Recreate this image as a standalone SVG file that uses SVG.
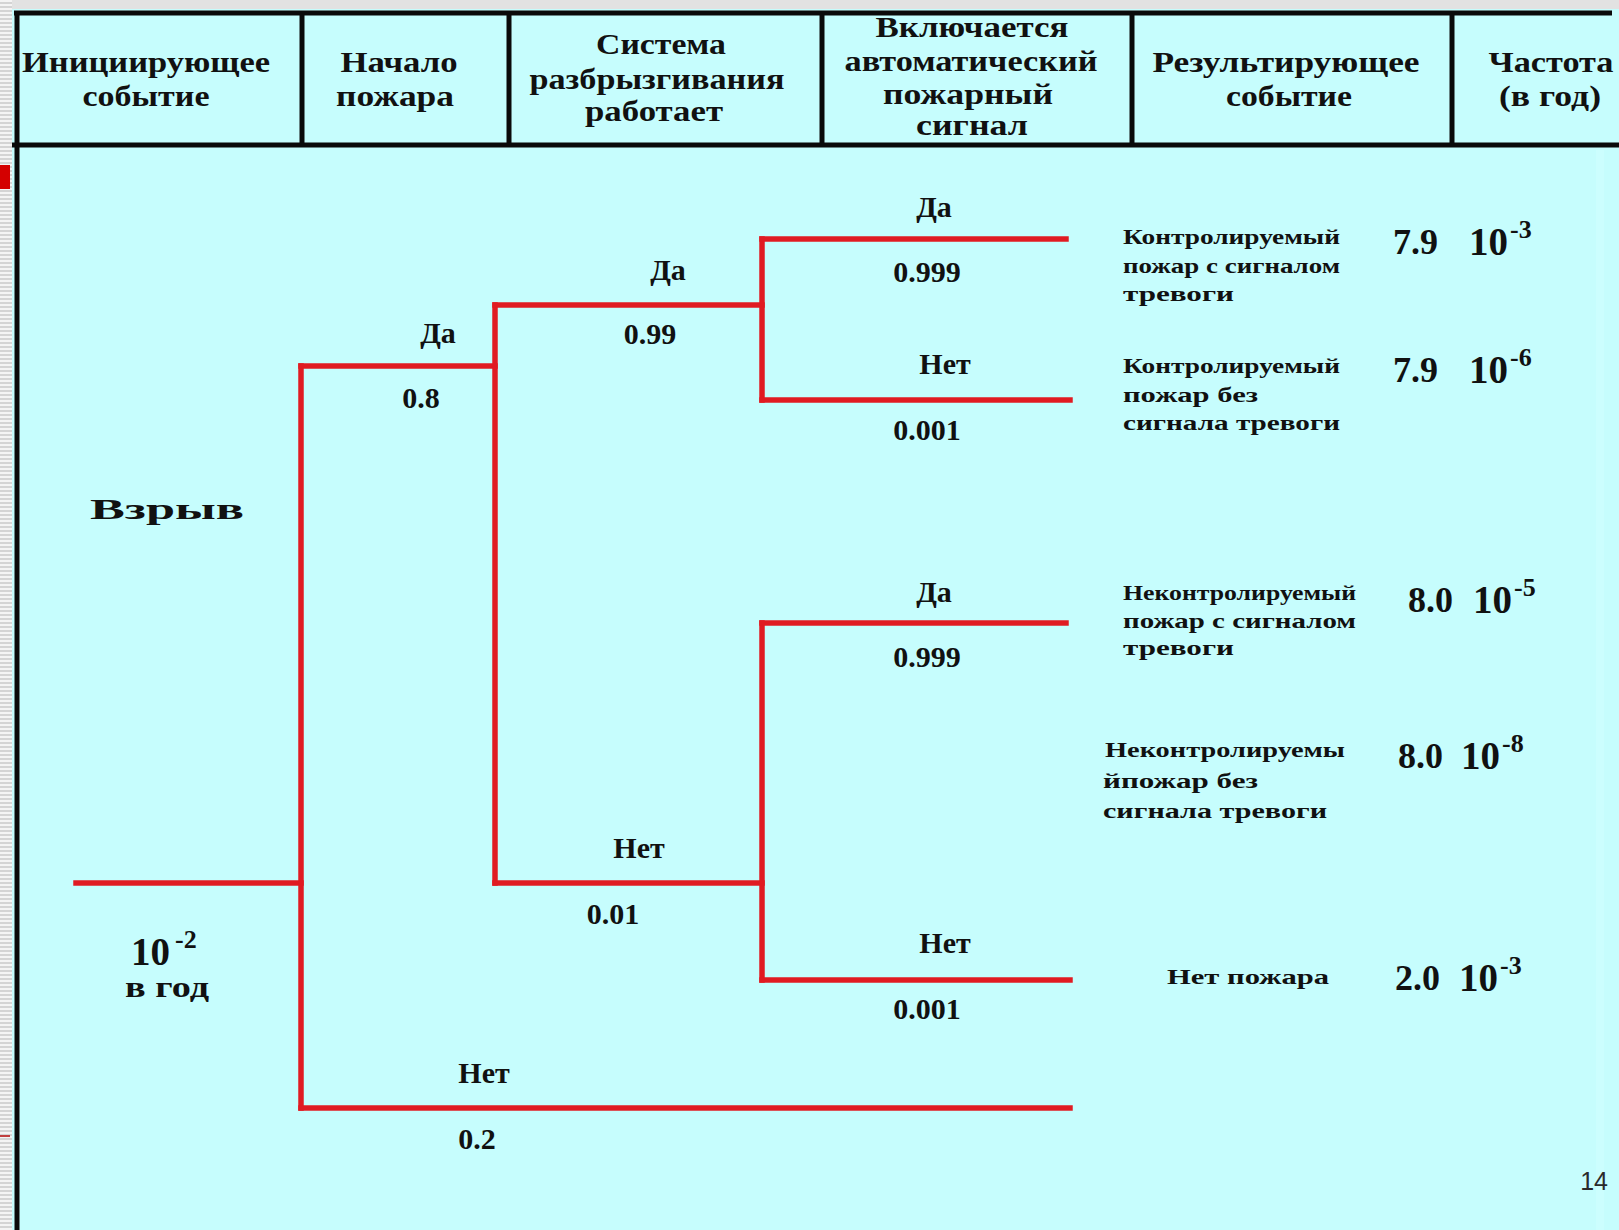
<svg xmlns="http://www.w3.org/2000/svg" width="1619" height="1230" viewBox="0 0 1619 1230">
<defs>
<pattern id="stripes" x="0" y="0" width="12" height="4" patternUnits="userSpaceOnUse">
<rect width="12" height="4" fill="#f4f4f4"/>
<rect y="2" width="12" height="2" fill="#d4d4d4"/>
</pattern>
<style>
.hd{font-family:"Liberation Serif","Times New Roman",serif;font-weight:bold;font-size:30px;fill:#111;text-anchor:middle}
.lb{font-family:"Liberation Serif","Times New Roman",serif;font-weight:bold;font-size:30px;fill:#111;text-anchor:middle}
.oc{font-family:"Liberation Serif","Times New Roman",serif;font-weight:bold;font-size:22px;fill:#111}
.fq{font-family:"Liberation Serif","Times New Roman",serif;font-weight:bold;font-size:36px;fill:#111}
.tn{font-family:"Liberation Serif","Times New Roman",serif;font-weight:bold;font-size:39px;fill:#111}
.sp{font-family:"Liberation Serif","Times New Roman",serif;font-weight:bold;font-size:26px;fill:#111}
.br{stroke:#e01b22;stroke-width:5.5;fill:none;stroke-linecap:square}
.bk{stroke:#0a0a0a;stroke-width:5;fill:none}
</style>
</defs>
<rect width="1619" height="1230" fill="#c6fdfd"/>
<rect width="1619" height="9" fill="#e2e2e2"/>
<rect x="0" y="0" width="12" height="1230" fill="url(#stripes)"/>
<rect x="0" y="165" width="10" height="24" fill="#d40000"/>
<rect x="0" y="1135" width="10" height="2" fill="#c04040"/>
<rect x="1596" y="150" width="8" height="1080" fill="#d0ffff" opacity="0.6"/>

<g id="header">
<line class="bk" x1="14" y1="13" x2="1612" y2="13"/>
<line class="bk" x1="12" y1="145" x2="1619" y2="145"/>
<line class="bk" x1="17" y1="11" x2="17" y2="1230" stroke-width="6"/>
<line class="bk" x1="302" y1="13" x2="302" y2="145"/>
<line class="bk" x1="509" y1="13" x2="509" y2="145"/>
<line class="bk" x1="822" y1="13" x2="822" y2="145"/>
<line class="bk" x1="1132" y1="13" x2="1132" y2="145"/>
<line class="bk" x1="1452" y1="13" x2="1452" y2="145"/>
<text class="hd" x="146" y="72" textLength="248" lengthAdjust="spacingAndGlyphs">Инициирующее</text>
<text class="hd" x="146" y="106" textLength="127" lengthAdjust="spacingAndGlyphs">событие</text>
<text class="hd" x="399" y="72" textLength="117" lengthAdjust="spacingAndGlyphs">Начало</text>
<text class="hd" x="395" y="106" textLength="118" lengthAdjust="spacingAndGlyphs">пожара</text>
<text class="hd" x="661" y="54" textLength="130" lengthAdjust="spacingAndGlyphs">Система</text>
<text class="hd" x="657" y="89" textLength="255" lengthAdjust="spacingAndGlyphs">разбрызгивания</text>
<text class="hd" x="654" y="121" textLength="138" lengthAdjust="spacingAndGlyphs">работает</text>
<text class="hd" x="972" y="37" textLength="193" lengthAdjust="spacingAndGlyphs">Включается</text>
<text class="hd" x="971" y="71" textLength="253" lengthAdjust="spacingAndGlyphs">автоматический</text>
<text class="hd" x="968" y="104" textLength="170" lengthAdjust="spacingAndGlyphs">пожарный</text>
<text class="hd" x="972" y="135" textLength="112" lengthAdjust="spacingAndGlyphs">сигнал</text>
<text class="hd" x="1286" y="72" textLength="267" lengthAdjust="spacingAndGlyphs">Результирующее</text>
<text class="hd" x="1289" y="106" textLength="126" lengthAdjust="spacingAndGlyphs">событие</text>
<text class="hd" x="1551" y="72" textLength="125" lengthAdjust="spacingAndGlyphs">Частота</text>
<text class="hd" x="1550" y="106" textLength="102" lengthAdjust="spacingAndGlyphs">(в год)</text>
</g>

<g id="connectors">
<path class="br" d="M76 883 H301"/>
<path class="br" d="M301 366 V1108"/>
<path class="br" d="M301 366 H495"/>
<path class="br" d="M301 1108 H1070"/>
<path class="br" d="M495 305 V883"/>
<path class="br" d="M495 305 H762"/>
<path class="br" d="M495 883 H762"/>
<path class="br" d="M762 239 V400"/>
<path class="br" d="M762 239 H1066"/>
<path class="br" d="M762 400 H1070"/>
<path class="br" d="M762 623 V980"/>
<path class="br" d="M762 623 H1066"/>
<path class="br" d="M762 980 H1070"/>
</g>

<g id="initiating-event">
<text class="lb" x="167" y="519" font-size="42" textLength="154" lengthAdjust="spacingAndGlyphs">Взрыв</text>
<text class="tn" x="131" y="965" font-size="42">10</text>
<text class="sp" x="175" y="948" font-size="24">-2</text>
<text class="lb" x="167" y="997" font-size="25" textLength="84" lengthAdjust="spacingAndGlyphs">в год</text>
</g>

<g id="fire-start">
<text class="lb" x="438" y="343">Да</text>
<text class="lb" x="421" y="408">0.8</text>
<text class="lb" x="484" y="1083">Нет</text>
<text class="lb" x="477" y="1149">0.2</text>
</g>

<g id="sprinkler">
<text class="lb" x="668" y="280">Да</text>
<text class="lb" x="650" y="344">0.99</text>
<text class="lb" x="639" y="858">Нет</text>
<text class="lb" x="613" y="924">0.01</text>
</g>

<g id="alarm-upper">
<text class="lb" x="934" y="217">Да</text>
<text class="lb" x="927" y="282">0.999</text>
<text class="lb" x="945" y="374">Нет</text>
<text class="lb" x="927" y="440">0.001</text>
</g>

<g id="alarm-lower">
<text class="lb" x="934" y="602">Да</text>
<text class="lb" x="927" y="667">0.999</text>
<text class="lb" x="945" y="953">Нет</text>
<text class="lb" x="927" y="1019">0.001</text>
</g>

<g id="outcome-1">
<text class="oc" x="1123" y="244" textLength="217" lengthAdjust="spacingAndGlyphs">Контролируемый</text>
<text class="oc" x="1123" y="273" textLength="217" lengthAdjust="spacingAndGlyphs">пожар с сигналом</text>
<text class="oc" x="1123" y="301" textLength="111" lengthAdjust="spacingAndGlyphs">тревоги</text>
<text class="fq" x="1393" y="254">7.9</text>
<text class="tn" x="1469" y="255">10</text>
<text class="sp" x="1510" y="238">-3</text>
</g>

<g id="outcome-2">
<text class="oc" x="1123" y="373" textLength="217" lengthAdjust="spacingAndGlyphs">Контролируемый</text>
<text class="oc" x="1123" y="402" textLength="135" lengthAdjust="spacingAndGlyphs">пожар без</text>
<text class="oc" x="1123" y="430" textLength="217" lengthAdjust="spacingAndGlyphs">сигнала тревоги</text>
<text class="fq" x="1393" y="382">7.9</text>
<text class="tn" x="1469" y="383">10</text>
<text class="sp" x="1510" y="366">-6</text>
</g>

<g id="outcome-3">
<text class="oc" x="1123" y="600" textLength="233" lengthAdjust="spacingAndGlyphs">Неконтролируемый</text>
<text class="oc" x="1123" y="628" textLength="233" lengthAdjust="spacingAndGlyphs">пожар с сигналом</text>
<text class="oc" x="1123" y="655" textLength="111" lengthAdjust="spacingAndGlyphs">тревоги</text>
<text class="fq" x="1408" y="612">8.0</text>
<text class="tn" x="1473" y="613">10</text>
<text class="sp" x="1514" y="596">-5</text>
</g>

<g id="outcome-4">
<text class="oc" x="1105" y="757" textLength="240" lengthAdjust="spacingAndGlyphs">Неконтролируемы</text>
<text class="oc" x="1103" y="788" textLength="155" lengthAdjust="spacingAndGlyphs">йпожар без</text>
<text class="oc" x="1103" y="818" textLength="224" lengthAdjust="spacingAndGlyphs">сигнала тревоги</text>
<text class="fq" x="1398" y="768">8.0</text>
<text class="tn" x="1461" y="769">10</text>
<text class="sp" x="1502" y="752">-8</text>
</g>

<g id="outcome-5">
<text class="oc" x="1167" y="984" textLength="162" lengthAdjust="spacingAndGlyphs">Нет пожара</text>
<text class="fq" x="1395" y="990">2.0</text>
<text class="tn" x="1459" y="991">10</text>
<text class="sp" x="1500" y="974">-3</text>
</g>

<text x="1608" y="1190" text-anchor="end" font-family="Liberation Sans, Arial, sans-serif" font-size="25" fill="#2a2a2a">14</text>
</svg>
